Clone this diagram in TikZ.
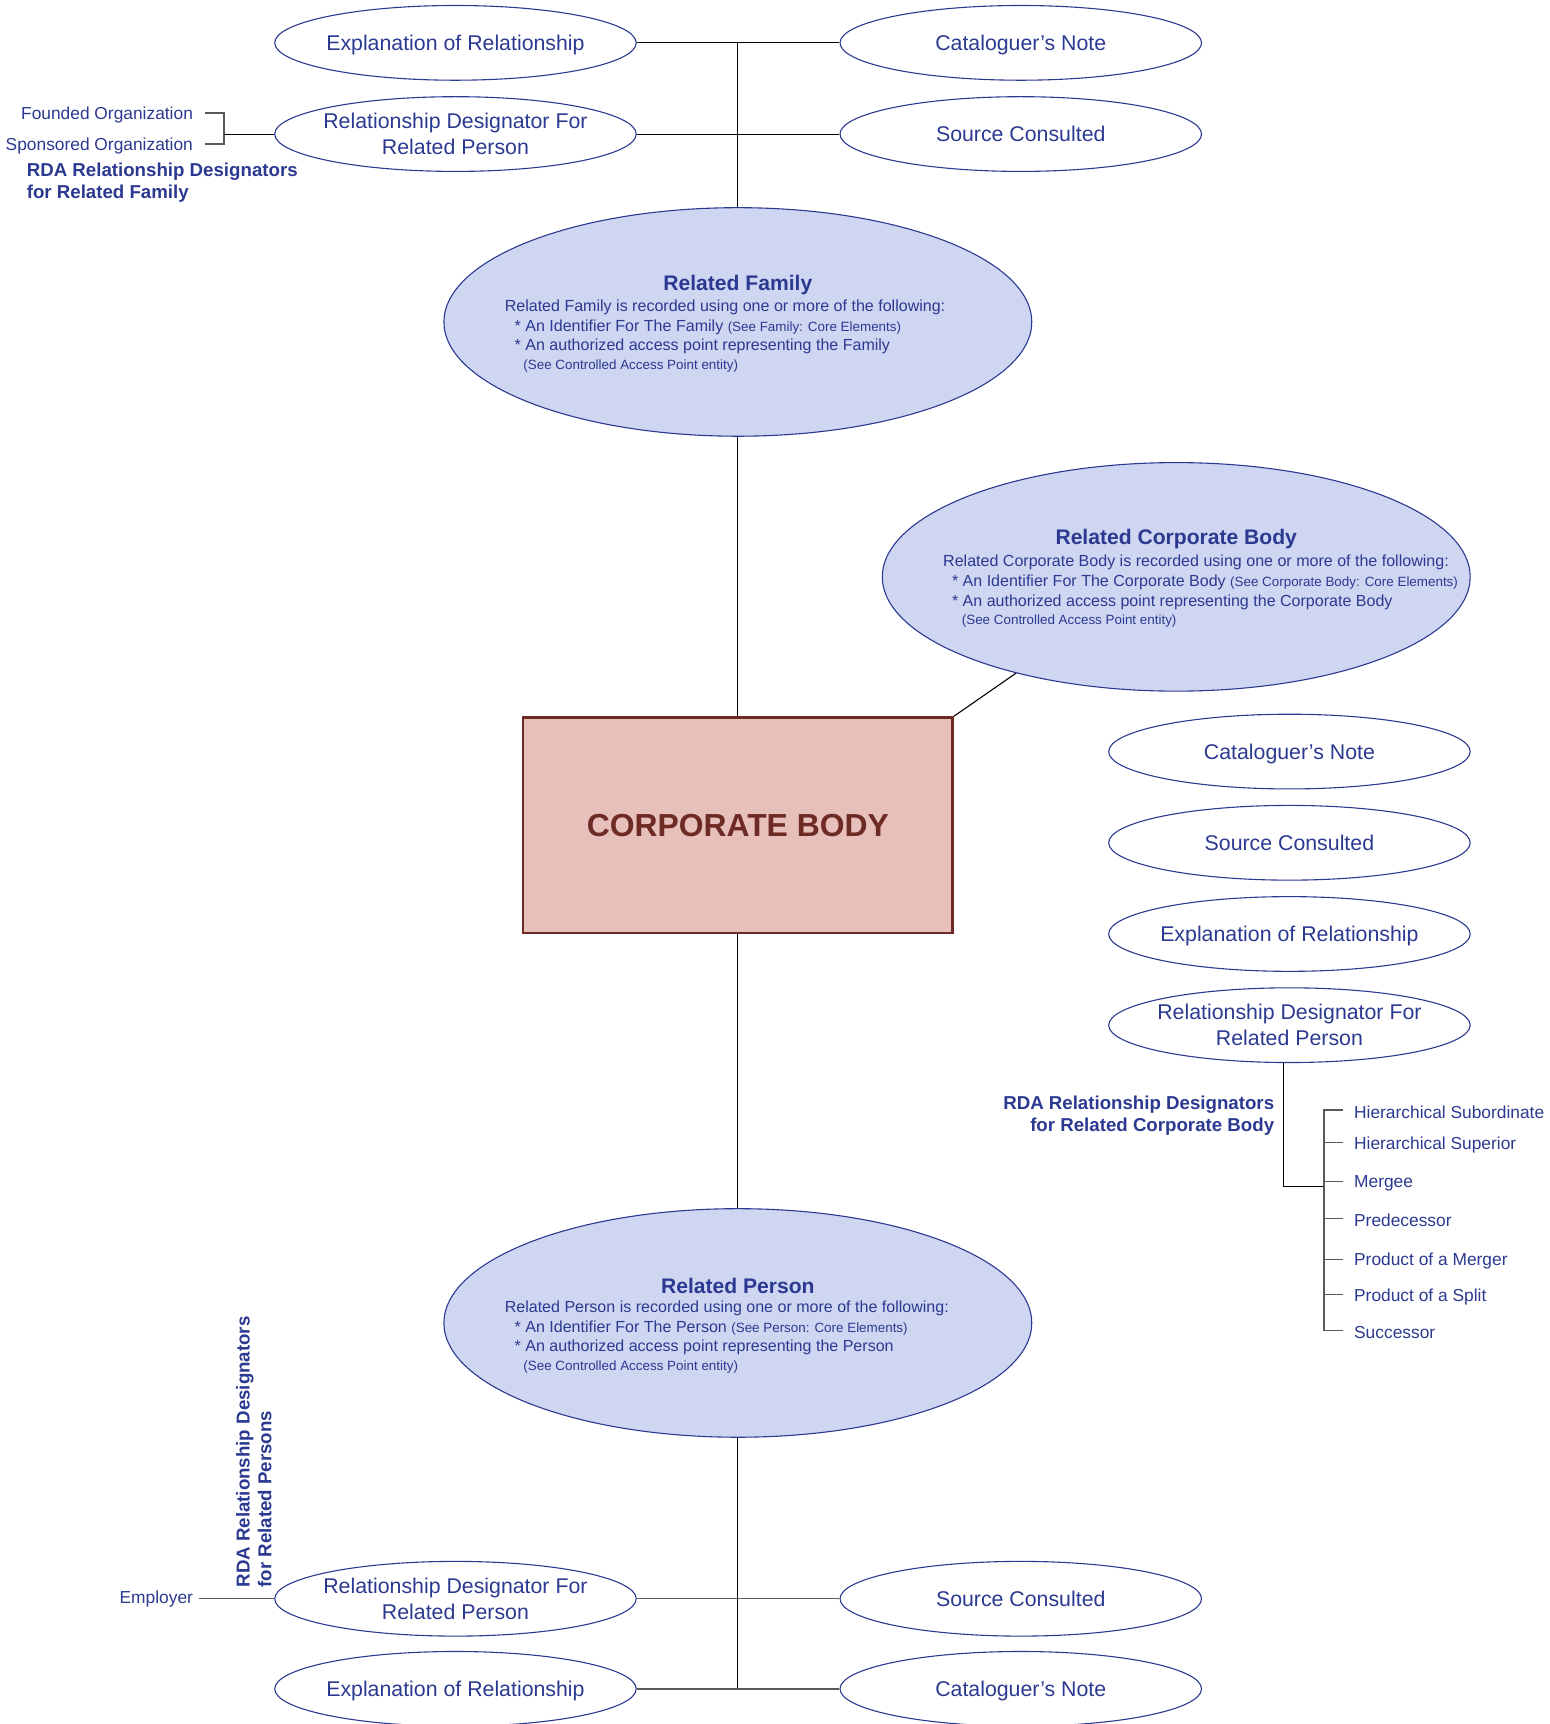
\documentclass[tikz,border=0pt]{standalone}
\usepackage{fontspec}
\setmainfont{Liberation Sans}
\usetikzlibrary{shapes.geometric}
\definecolor{tblue}{RGB}{43,57,144}
\definecolor{efill}{RGB}{207,214,242}
\definecolor{bfill}{RGB}{231,192,187}
\definecolor{bred}{RGB}{110,42,36}
\newcommand{\smtxt}[1]{{\fontsize{6.1}{7}\selectfont #1}}
\begin{document}
\begin{tikzpicture}[x=0.5pt,y=-0.5pt,
  dn/.style={yshift=-1pt},
  oval/.style={ellipse, draw=tblue, line width=0.5pt, minimum width=164.5pt, minimum height=34pt, inner sep=0pt},
  bigoval/.style={ellipse, draw=tblue, fill=efill, line width=0.5pt, minimum width=267.5pt, minimum height=104pt, inner sep=0pt},
  ovtxttwo/.style={text=tblue, font=\fontsize{9.7}{11.8}\selectfont, align=center, inner sep=0pt},
  ovtxt/.style={dn, ovtxttwo},
  ttl/.style={dn, text=tblue, font=\bfseries\fontsize{9.6}{11}\selectfont, inner sep=0pt},
  body/.style={dn, text=tblue, font=\fontsize{7.3}{8.8}\selectfont, inner sep=0pt, anchor=west},
  itemplain/.style={text=tblue, font=\fontsize{7.9}{9.5}\selectfont, inner sep=0pt},
  item/.style={dn, itemplain},
  rda/.style={text=tblue, font=\bfseries\fontsize{8.5}{10}\selectfont, inner sep=0pt},
  conn/.style={draw=black, line width=0.5pt},
  gconn/.style={draw=black!65, line width=0.65pt}
]
\useasboundingbox (0,0) rectangle (1410,1569);

% ---- top group
\node[oval] (expT) at (414.5,39) {};
\node[ovtxt] (expTt) at (expT) {Explanation of Relationship};
\node[oval] (catT) at (929,39) {};
\node[ovtxt] (catTt) at (catT) {Cataloguer’s Note};
\node[oval] (rdT) at (414.5,122) {};
\node[ovtxttwo] (rdTt) at (rdT) {Relationship Designator For\\Related Person};
\node[oval] (scT) at (929,122) {};
\node[ovtxttwo] (scTt) at (scT) {Source Consulted};

\node[item, anchor=east] (fo) at (176,103) {Founded Organization};
\node[item, anchor=east] (so) at (176,131) {Sponsored Organization};
\node[rda, dn, align=left, anchor=west] (rdaL) at (24,164) {RDA Relationship Designators\\for Related Family};
\coordinate (brk) at (204,122);

% ---- related family
\node[bigoval] (fam) at (671.5,293) {};
\node[ttl] (famT) at (671.5,257) {Related Family};
\node[body] (famL1) at (459,278) {Related Family is recorded using one or more of the following:};
\node[body] (famL2) at (468,296) {* An Identifier For The Family \smtxt{(See Family: Core Elements)}};
\node[body] (famL3) at (468,313) {* An authorized access point representing the Family};
\node[body] (famL4) at (476,331) {\smtxt{(See Controlled Access Point entity)}};

% ---- related corporate body
\node[bigoval] (rcb) at (1070.5,525) {};
\node[ttl] (rcbT) at (1070.5,489) {Related Corporate Body};
\node[body] (rcbL1) at (858,510) {Related Corporate Body is recorded using one or more of the following:};
\node[body] (rcbL2) at (866,528) {* An Identifier For The Corporate Body \smtxt{(See Corporate Body: Core Elements)}};
\node[body] (rcbL3) at (866,546) {* An authorized access point representing the Corporate Body};
\node[body] (rcbL4) at (875,563) {\smtxt{(See Controlled Access Point entity)}};

% ---- corporate body
\node[draw=bred, fill=bfill, line width=1.2pt, minimum width=195.5pt, minimum height=98pt,
      inner sep=0pt, text=bred, font=\bfseries\fontsize{14.5}{17}\selectfont] (cb) at (671.5,751) {CORPORATE BODY};

% ---- right column
\node[oval] (catR) at (1173.5,684) {};
\node[ovtxt] (catRt) at (catR) {Cataloguer’s Note};
\node[oval] (scR) at (1173.5,767) {};
\node[ovtxttwo] (scRt) at (scR) {Source Consulted};
\node[oval] (expR) at (1173.5,850) {};
\node[ovtxt] (expRt) at (expR) {Explanation of Relationship};
\node[oval] (rdR) at (1173.5,933) {};
\node[ovtxttwo] (rdRt) at (rdR) {Relationship Designator For\\Related Person};

\node[rda, dn, align=right, anchor=east] (rdaR) at (1160,1013) {RDA Relationship Designators\\for Related Corporate Body};
\node[item, anchor=west] (d1) at (1232,1010) {Hierarchical Subordinate};
\node[item, anchor=west] (d2) at (1232,1040) {Hierarchical Superior};
\node[item, anchor=west] (d3) at (1232,1075) {Mergee};
\node[item, anchor=west] (d4) at (1232,1109) {Predecessor};
\node[item, anchor=west] (d5) at (1232,1146) {Product of a Merger};
\node[item, anchor=west] (d6) at (1232,1178) {Product of a Split};
\node[item, anchor=west] (d7) at (1232,1211) {Successor};
\coordinate (rj) at (1205,1080);

% ---- related person
\node[bigoval] (rp) at (671.5,1204) {};
\node[ttl] (rpT) at (671.5,1168) {Related Person};
\node[body] (rpL1) at (459,1189) {Related Person is recorded using one or more of the following:};
\node[body] (rpL2) at (468,1207) {* An Identifier For The Person \smtxt{(See Person: Core Elements)}};
\node[body] (rpL3) at (468,1224) {* An authorized access point representing the Person};
\node[body] (rpL4) at (476,1242) {\smtxt{(See Controlled Access Point entity)}};

% ---- bottom group
\node[oval] (rdB) at (414.5,1455) {};
\node[ovtxttwo] (rdBt) at (rdB) {Relationship Designator For\\Related Person};
\node[oval] (scB) at (929,1455) {};
\node[ovtxttwo] (scBt) at (scB) {Source Consulted};
\node[oval] (expB) at (414.5,1537) {};
\node[ovtxt] (expBt) at (expB) {Explanation of Relationship};
\node[oval] (catB) at (929,1537) {};
\node[ovtxt] (catBt) at (catB) {Cataloguer’s Note};

\node[itemplain, anchor=east] (emp) at (176,1455) {Employer};
\node[rda, align=left, anchor=west, rotate=90] (rdaP) at (231,1445) {RDA Relationship Designators\\for Related Persons};

% ---- connectors
\draw[conn] (expT.east) -- (catT.west);
\draw[conn] (rdT.east) -- (scT.west);
\draw[conn] (fam.north) -- (fam.north |- expT.east);
\draw[gconn] ([xshift=5.5pt,yshift=1pt]fo.east) -| (brk) |- ([xshift=5.5pt,yshift=1pt]so.east);
\draw[conn] (brk) -- (brk -| rdT.west);
\draw[conn] (fam.south) -- (cb.north);
\draw[conn] (cb.north east) -- (rcb.211);
\draw[conn] (cb.south) -- (rp.north);
\draw[conn] ([xshift=-2.75pt]rdR.south) |- (rj);
\draw[gconn] ([xshift=-5pt,yshift=1pt]d1.west) -| ([xshift=-13.5pt,yshift=1pt]d7.west) -- ([xshift=-5pt,yshift=1pt]d7.west);
\foreach \i in {2,...,6} \draw[gconn] ([xshift=-5pt,yshift=1pt]d\i.west) -- ([xshift=-13.5pt,yshift=1pt]d\i.west);
\draw[conn] (rp.south) -- (rp.south |- expB.east);
\draw[gconn] (rdB.east) -- (scB.west);
\draw[gconn] (expB.east) -- (catB.west);
\draw[gconn] ([xshift=2.5pt]emp.east) -- (rdB.west);
\end{tikzpicture}
\end{document}
